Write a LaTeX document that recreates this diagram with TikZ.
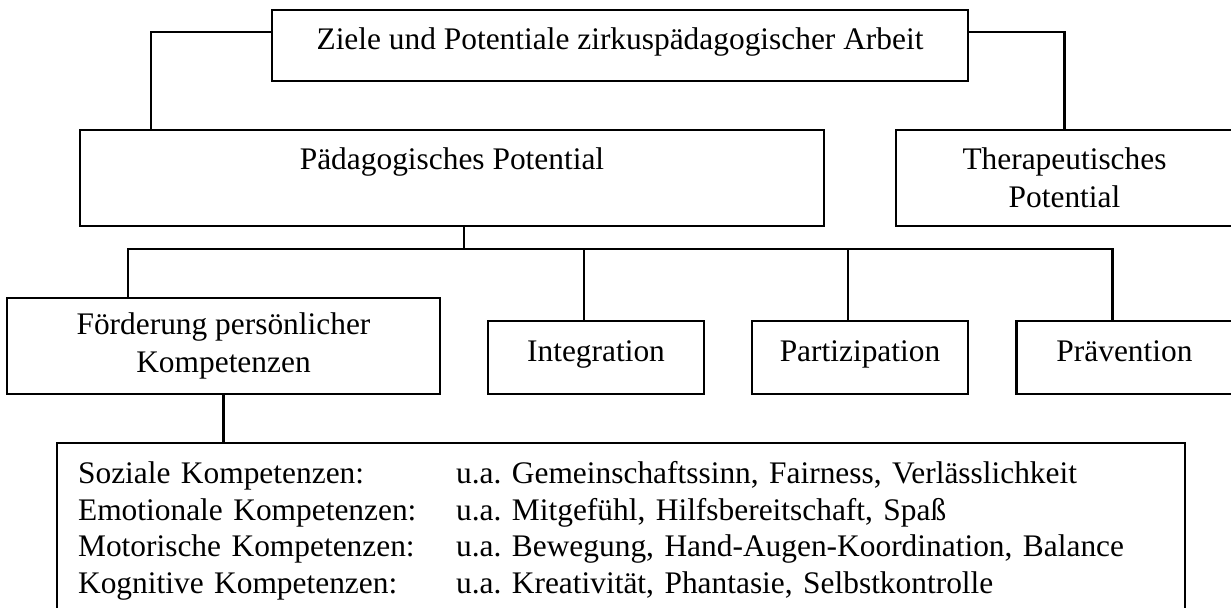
\documentclass[tikz,border=0pt]{standalone}
\usepackage{fontspec}
\setmainfont{Liberation Serif}
\usetikzlibrary{positioning}
\frenchspacing
\newcommand{\kompzeile}[2]{\makebox[189pt][l]{#1}#2}

\begin{document}
\begin{tikzpicture}[x=0.5pt,y=-0.5pt,line width=1.1pt,line cap=rect,
  kasten/.style={draw,inner sep=0pt,align=center,font=\fontsize{15.7}{19}\selectfont},
  einzeilig/.style={text height=8pt,text depth=3.5pt}]
\useasboundingbox (0,0) rectangle (1231,608);
\clip (0,0) rectangle (1231,608);
% Kaesten
\node[kasten,einzeilig,minimum width=348pt,minimum height=35.5pt] (ziel) at (620,45.5)
  {Ziele und Potentiale zirkuspädagogischer Arbeit};
\node[kasten,minimum width=372pt,minimum height=48pt] (paed) at (452,178)
  {Pädagogisches Potential\\\phantom{Potential}};
\node[kasten,minimum width=168.5pt,minimum height=48pt] (thera) at (1064.5,178)
  {Therapeutisches\\Potential};
\node[kasten,minimum width=216.5pt,minimum height=48pt] (foerd) at (223.5,346)
  {Förderung persönlicher\\Kompetenzen};
\node[kasten,einzeilig,minimum width=108pt,minimum height=36.5pt] (integ) at (596,357.5) {Integration};
\node[kasten,einzeilig,minimum width=108pt,minimum height=36.5pt] (partiz) at (860,357.5) {Partizipation};
\node[kasten,einzeilig,minimum width=108pt,minimum height=36.5pt] (praev) at (1124.5,357.5) {Prävention};
\node[kasten,anchor=north west,align=left,text width=543pt,inner xsep=10.5pt,inner ysep=9.25pt,
  font=\fontsize{15.7}{18.25}\selectfont] (komp) at (56,442)
  {\kompzeile{Soziale Kompetenzen:}{u.a. Gemeinschaftssinn, Fairness, Verlässlichkeit}\\
   \kompzeile{Emotionale Kompetenzen:}{u.a. Mitgefühl, Hilfsbereitschaft, Spaß}\\
   \kompzeile{Motorische Kompetenzen:}{u.a. Bewegung, Hand-Augen-Koordination, Balance}\\
   \kompzeile{Kognitive Kompetenzen:}{u.a. Kreativität, Phantasie, Selbstkontrolle}};
% Verbindungen
\draw ([yshift=-11.5pt]ziel.north west) -| ([xshift=36pt]paed.north west);
\draw ([yshift=-11.5pt]ziel.north east) -| (thera.north);
\coordinate (bus) at (464,249);
\draw ([xshift=6pt]paed.south) -- (bus);
\draw ([xshift=-47.75pt]foerd.north) |- ([xshift=-6pt]praev.north |- bus) -- ([xshift=-6pt]praev.north);
\foreach \n in {integ,partiz}
  \draw ([xshift=-6pt]\n.north) -- ([xshift=-6pt]\n.north |- bus);
\draw (foerd.south) -- (foerd.south |- komp.north);
\end{tikzpicture}
\end{document}
